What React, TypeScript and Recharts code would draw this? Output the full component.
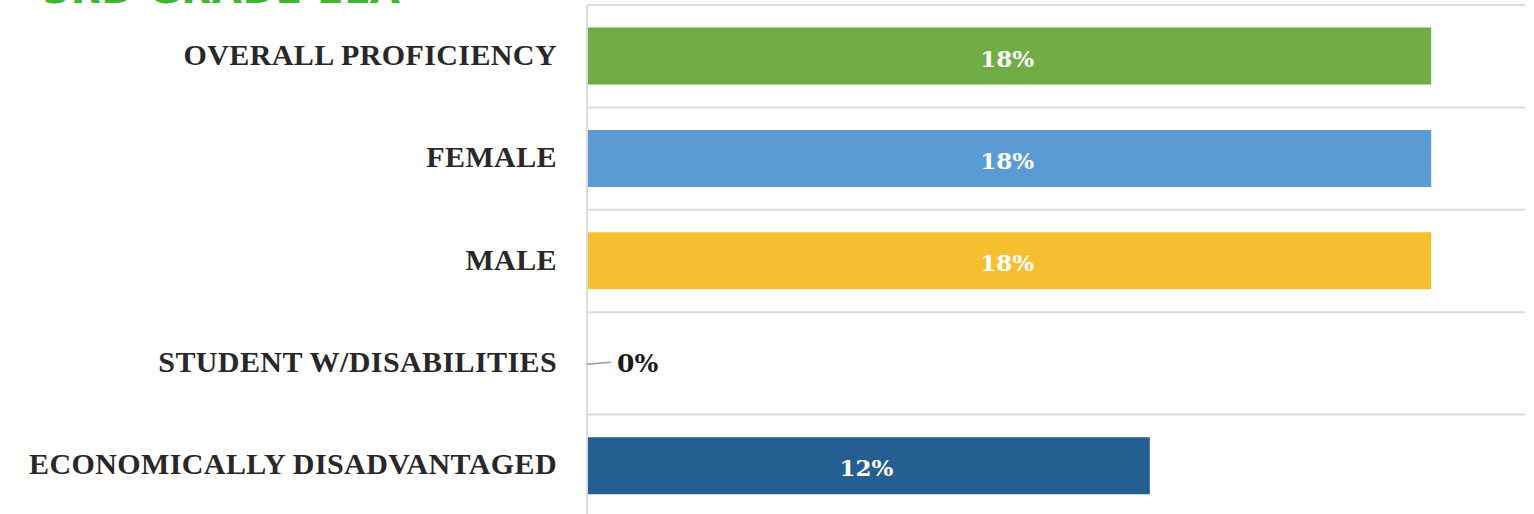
import React from "react";
import { BarChart, Bar, XAxis, YAxis, CartesianGrid, Cell, LabelList } from "recharts";

const categories = [
  "OVERALL PROFICIENCY",
  "FEMALE",
  "MALE",
  "STUDENT W/DISABILITIES",
  "ECONOMICALLY DISADVANTAGED",
];
const values = [18, 18, 18, 0, 12];
const colors = ["#70ad47", "#5b9bd5", "#f6bf31", "#d4d4d4", "#255e91"];
const title = "3RD GRADE ELA";

const data = categories.map((name, i) => ({ name, value: values[i] }));

const serif = "'Liberation Serif', serif";
const labelSerif = "'DejaVu Serif', serif";

const renderLabel = (props: any) => {
  const { x, y, width, height, value } = props;
  const cy = y + height / 2;
  if (!value) {
    return (
      <g>
        <line x1={x} y1={cy + 1} x2={x + 24} y2={cy - 1} stroke="#9a9a9a" strokeWidth={1.5} />
        <text
          x={x + 30}
          y={cy}
          dominantBaseline="central"
          fontFamily={labelSerif}
          fontWeight="bold"
          fontSize={25}
          fill="#1c1a1f"
        >
          {`${value}%`}
        </text>
      </g>
    );
  }
  return (
    <text
      x={x + width / 2 - 2}
      y={cy + 2}
      textAnchor="middle"
      dominantBaseline="central"
      fontFamily={labelSerif}
      fontWeight="bold"
      fontSize={23}
      fill="#ffffff"
    >
      {`${value}%`}
    </text>
  );
};

const renderTick = (props: any) => {
  const { x, y, payload } = props;
  return (
    <text
      x={x}
      y={y - 2}
      textAnchor="end"
      dominantBaseline="central"
      fontFamily={serif}
      fontWeight="bold"
      fontSize={30}
      letterSpacing={0.4}
      fill="#2b2729"
    >
      {payload.value}
    </text>
  );
};

export default function App() {
  return (
    <div style={{ position: "absolute", left: 0, top: 0, width: 1534, height: 517, background: "#fff" }}>
      <BarChart
        width={1534}
        height={517}
        data={data}
        layout="vertical"
        margin={{ top: 5, right: 9, left: 0, bottom: 0 }}
        barCategoryGap="22%"
      >
        <CartesianGrid
          vertical={false}
          stroke="#dcdcdc"
          strokeWidth={2}
          horizontalCoordinatesGenerator={({ offset }: any) => {
            const n = categories.length;
            const out: number[] = [];
            for (let i = 0; i <= n; i++) out.push(offset.top + (offset.height * i) / n);
            return out;
          }}
        />
        <XAxis type="number" domain={[0, 20]} hide />
        <YAxis
          type="category"
          dataKey="name"
          width={587}
          axisLine={{ stroke: "#dcdcdc", strokeWidth: 2 }}
          tickLine={false}
          tickSize={0}
          tickMargin={30}
          tick={renderTick}
          interval={0}
        />
        <Bar dataKey="value" isAnimationActive={false} minPointSize={1}>
          {data.map((d, i) => (
            <Cell key={d.name} fill={colors[i]} />
          ))}
          <LabelList dataKey="value" content={renderLabel} />
        </Bar>
        <text
          x={43}
          y={3}
          fontFamily="'DejaVu Sans', sans-serif"
          fontWeight="bold"
          fontSize={39}
          letterSpacing={0.6}
          fill="#3cb82d"
        >
          {title}
        </text>
      </BarChart>
    </div>
  );
}
